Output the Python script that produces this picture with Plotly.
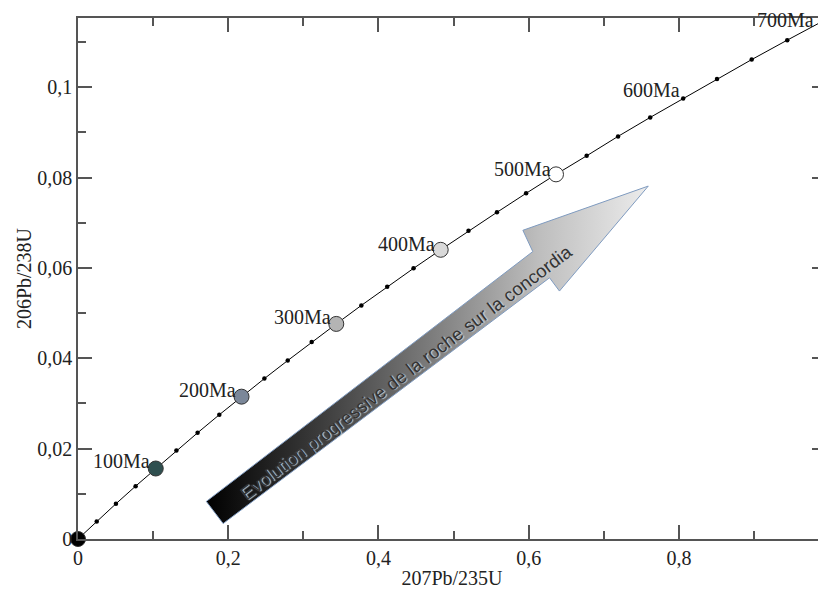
import plotly.graph_objects as go

# ---- data ----
AGES_MA = [0, 25, 50, 75, 100, 125, 150, 175, 200, 225, 250, 275, 300, 325, 350,
           375, 400, 425, 450, 475, 500, 525, 550, 575, 600, 625, 650, 675, 700]
PB207_U235 = [0.0, 0.0249, 0.0505, 0.0767, 0.1035, 0.1310, 0.1592, 0.1881, 0.2177,
              0.2481, 0.2792, 0.3111, 0.3438, 0.3772, 0.4116, 0.4467, 0.4828, 0.5198,
              0.5577, 0.5965, 0.6363, 0.6771, 0.7189, 0.7617, 0.8056, 0.8506, 0.8968,
              0.9441, 0.9925]
PB206_U238 = [0.0, 0.0039, 0.0078, 0.0117, 0.0156, 0.0196, 0.0235, 0.0275, 0.0315,
              0.0355, 0.0395, 0.0436, 0.0476, 0.0517, 0.0558, 0.0599, 0.0640, 0.0682,
              0.0723, 0.0765, 0.0807, 0.0848, 0.0891, 0.0933, 0.0975, 0.1018, 0.1061,
              0.1104, 0.1147]

MARKED_AGES = [0, 100, 200, 300, 400, 500]
MARKED_COLORS = ["#000000", "#2f4f4f", "#7b8799", "#b4b4b4", "#d9d9d9", "#ffffff"]

LABELED_AGES = [100, 200, 300, 400, 500, 600, 700]
LABEL_TEXT = ["100Ma", "200Ma", "300Ma", "400Ma", "500Ma", "600Ma", "700Ma"]

X_TICKVALS = [0, 0.2, 0.4, 0.6, 0.8]
X_TICKTEXT = ["0", "0,2", "0,4", "0,6", "0,8"]
Y_TICKVALS = [0, 0.02, 0.04, 0.06, 0.08, 0.1]
Y_TICKTEXT = ["0", "0,02", "0,04", "0,06", "0,08", "0,1"]

X_TITLE = "207Pb/235U"
Y_TITLE = "206Pb/238U"
ARROW_TEXT = "Evolution progressive de la roche sur la concordia"

# decorative arrow outline (data coordinates)
ARROW_X = [0.1708, 0.6054, 0.5922, 0.7591, 0.6409, 0.6277, 0.1932, 0.1708]
ARROW_Y = [0.00832, 0.06361, 0.06832, 0.07810, 0.05487, 0.05781, 0.00341, 0.00832]
ARROW_TEXT_POS = (0.4365, 0.03690)

# ---- figure ----
idx = {a: i for i, a in enumerate(AGES_MA)}
AXIS_COL = "#555555"
TEXT_COL = "#222222"
SERIF = "Liberation Serif"

fig = go.Figure()

fig.add_trace(go.Scatter(
    x=ARROW_X, y=ARROW_Y, mode="lines", fill="toself",
    fillgradient=dict(type="horizontal",
                      colorscale=[[0, "#000000"], [0.25, "#3a3a3a"], [0.5, "#7a7a7a"],
                                  [0.75, "#bdbdbd"], [1, "#ececec"]]),
    line=dict(color="#7f9bc0", width=1), hoverinfo="skip", cliponaxis=False))

fig.add_trace(go.Scatter(
    x=PB207_U235, y=PB206_U238, mode="lines+markers",
    line=dict(color="black", width=1),
    marker=dict(color="black", size=4.5), hoverinfo="skip"))

fig.add_trace(go.Scatter(
    x=[PB207_U235[idx[a]] for a in MARKED_AGES],
    y=[PB206_U238[idx[a]] for a in MARKED_AGES],
    mode="markers", cliponaxis=False,
    marker=dict(color=MARKED_COLORS, size=15, line=dict(color="#333333", width=1)),
    hoverinfo="skip"))

LABEL_SHIFT = {100: (-4, 8), 200: (-4, 7), 300: (-3, 7), 400: (-4, 6), 500: (-3, 5),
               600: (-1, 8), 700: (-8, 1)}
for age, txt in zip(LABELED_AGES, LABEL_TEXT):
    dx, dy = LABEL_SHIFT[age]
    fig.add_annotation(x=PB207_U235[idx[age]], y=PB206_U238[idx[age]], text=txt,
                       showarrow=False, xanchor="right", yanchor="middle",
                       xshift=dx, yshift=dy,
                       font=dict(family=SERIF, size=20, color=TEXT_COL))

fig.add_annotation(x=ARROW_TEXT_POS[0], y=ARROW_TEXT_POS[1], text=ARROW_TEXT,
                   showarrow=False, textangle=-37,
                   font=dict(family="Liberation Sans", size=18.5, color="#333333",
                             shadow="1px 1px 1px #cfcfcf"))

axis_common = dict(
    showline=True, linecolor=AXIS_COL, linewidth=1.5, mirror="ticks",
    ticks="inside", ticklen=14, tickwidth=1.5, tickcolor=AXIS_COL,
    showgrid=False, zeroline=False, tickmode="array", automargin=False,
    tickfont=dict(family=SERIF, size=20, color=TEXT_COL),
)

fig.update_layout(
    width=826, height=589,
    margin=dict(l=78, r=0, t=18, b=50, autoexpand=False),
    paper_bgcolor="white", plot_bgcolor="white",
    showlegend=False,
    font=dict(family=SERIF, size=20, color=TEXT_COL),
    xaxis=dict(range=[0, 0.9957], tickvals=X_TICKVALS, ticktext=X_TICKTEXT,
               minor=dict(ticks="inside", ticklen=8, tickwidth=1.5, tickcolor=AXIS_COL,
                          tickmode="linear", tick0=0, dtick=0.1),
               title=dict(text=X_TITLE, standoff=10,
                          font=dict(family=SERIF, size=20, color=TEXT_COL)),
               **axis_common),
    yaxis=dict(range=[0, 0.1153], tickvals=Y_TICKVALS, ticktext=Y_TICKTEXT,
               minor=dict(ticks="inside", ticklen=8, tickwidth=1.5, tickcolor=AXIS_COL,
                          tickmode="linear", tick0=0, dtick=0.01),
               title=dict(text=Y_TITLE, standoff=0,
                          font=dict(family=SERIF, size=20, color=TEXT_COL)),
               **axis_common),
)

fig.write_html("out.html", config={"displayModeBar": False},
               post_script="document.documentElement.style.overflow='hidden';"
                           "document.body.style.overflow='hidden';"
                           "document.body.style.margin='0';")
